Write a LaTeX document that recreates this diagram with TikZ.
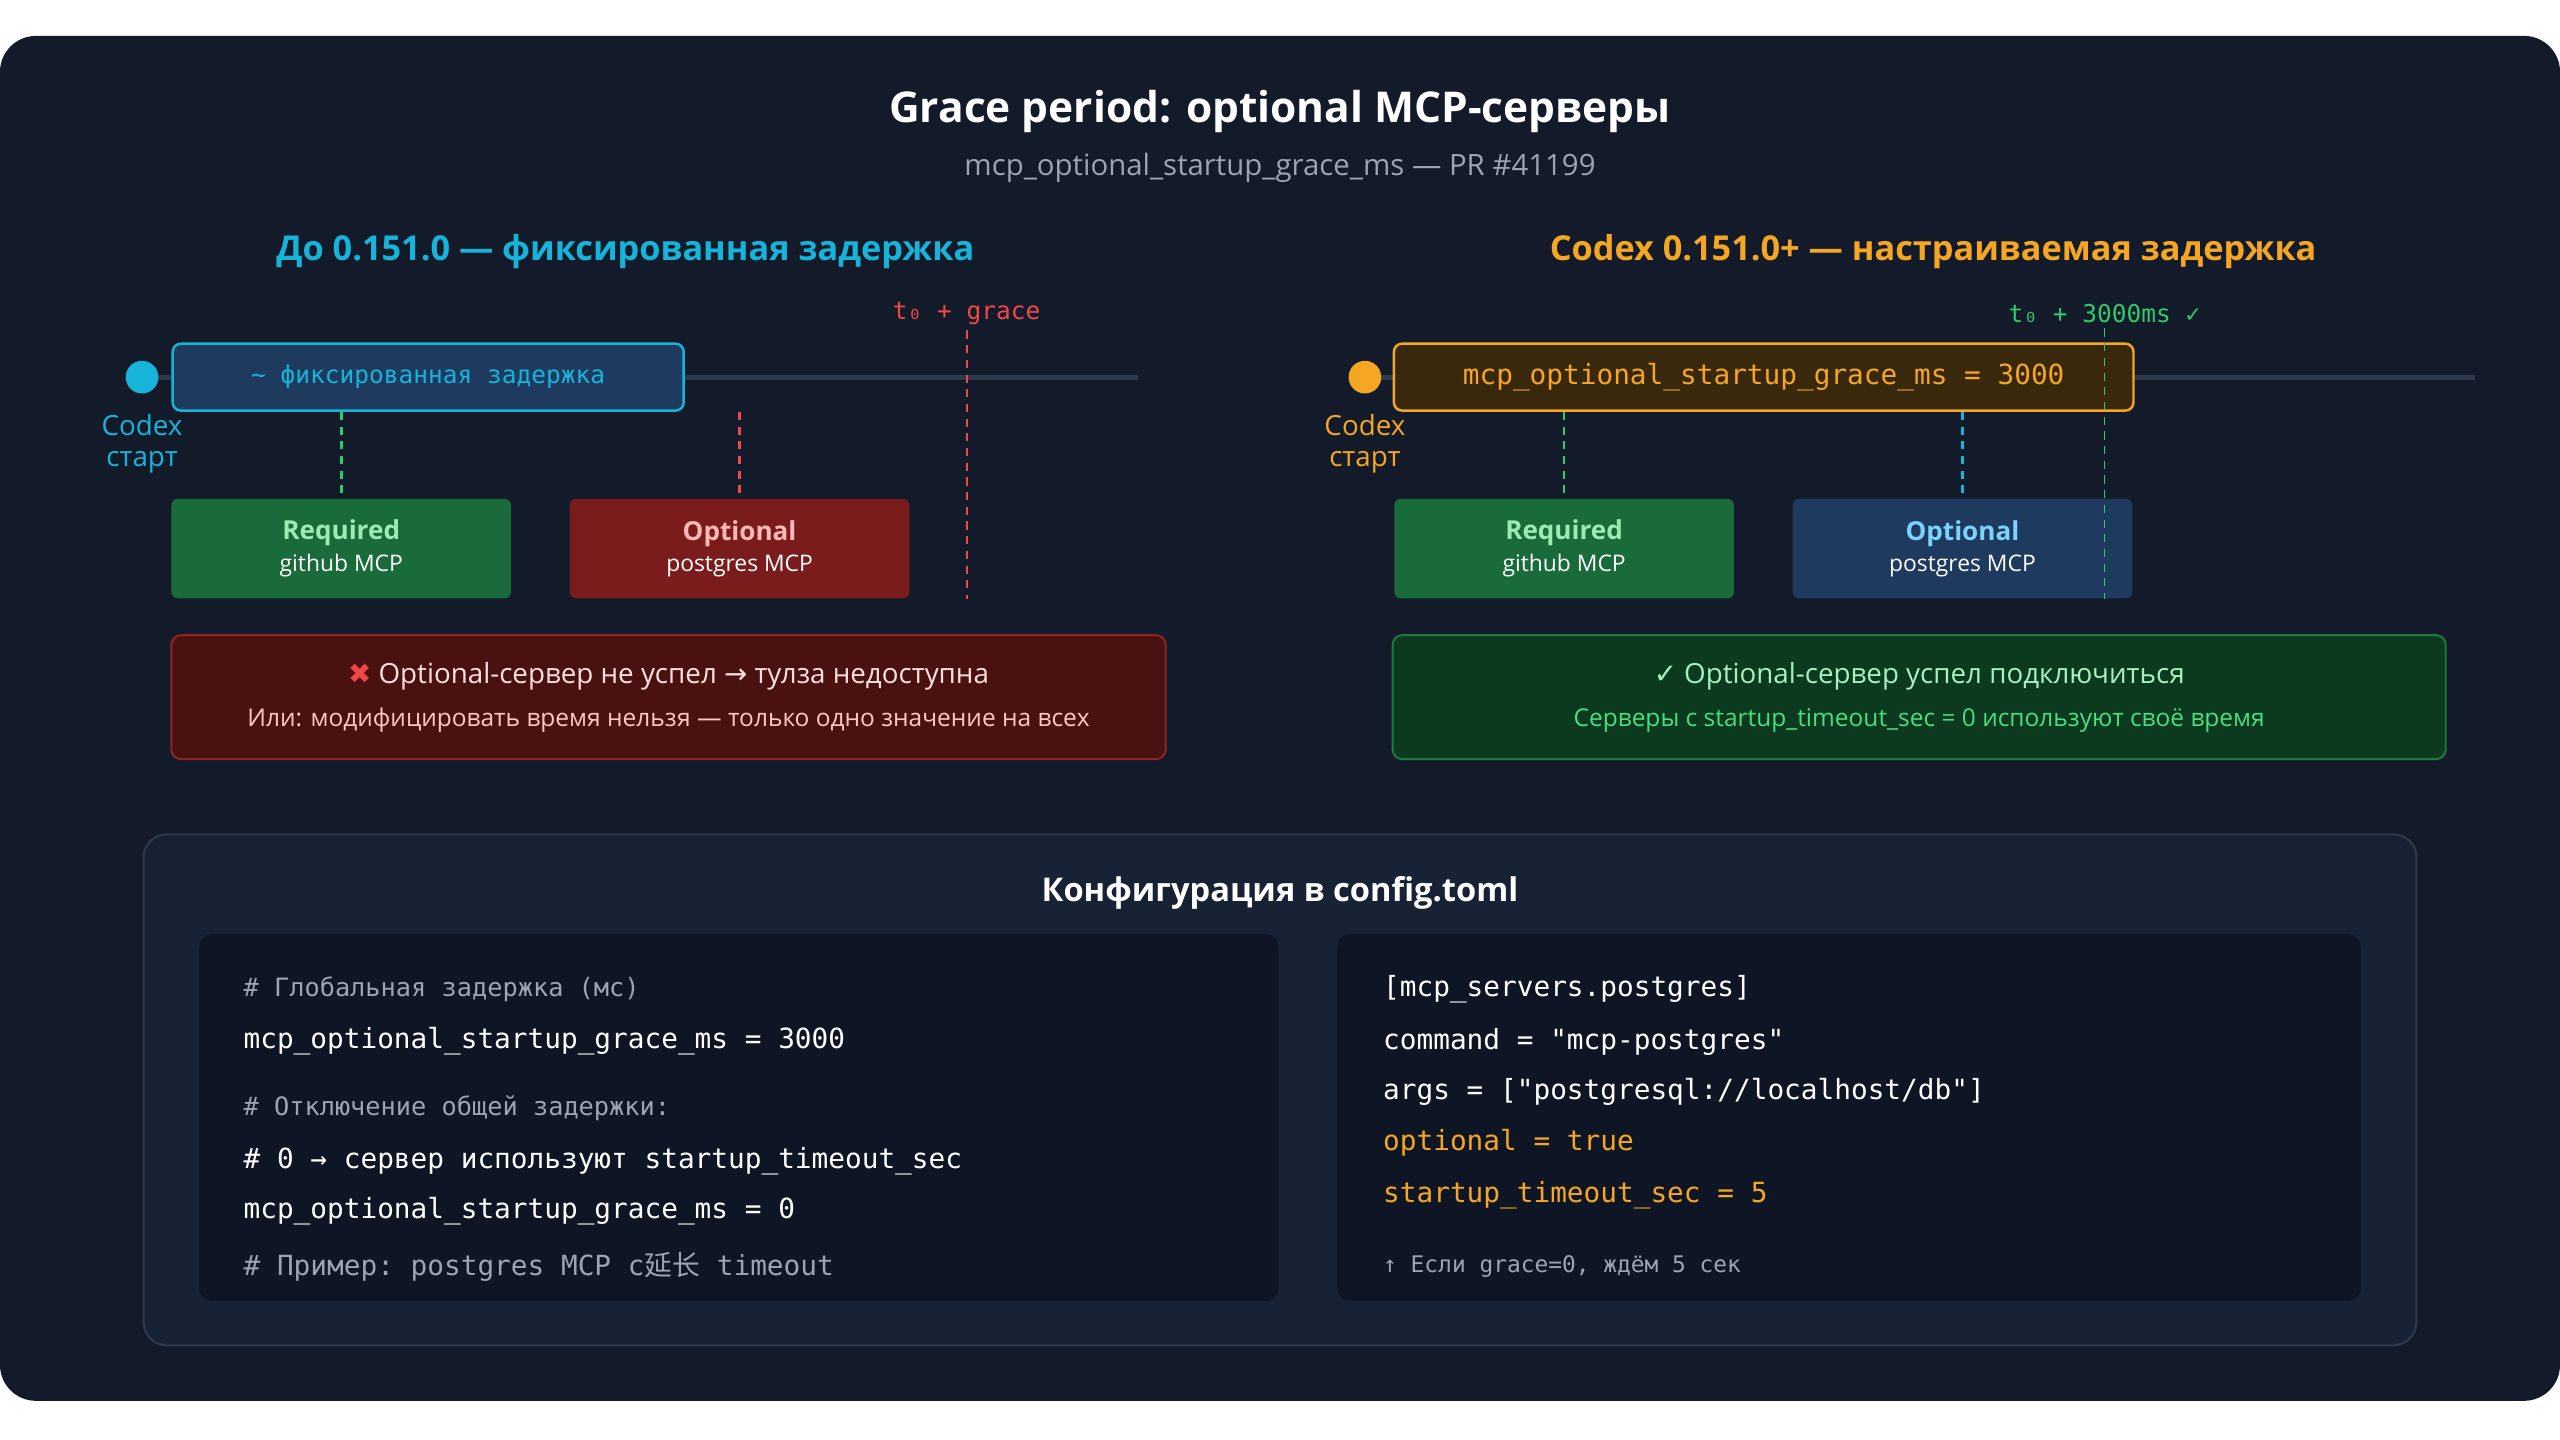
\documentclass[tikz,border=0pt]{standalone}
\usepackage{fontspec}
\setmainfont{Open Sans}
\setmonofont{DejaVu Sans Mono}
\newfontfamily\symfont{DejaVu Sans}
\newfontfamily\cjk{Noto Sans CJK SC}
\usetikzlibrary{positioning}

\definecolor{bgout}{HTML}{131B2A}
\definecolor{panel}{HTML}{182235}
\definecolor{codebg}{HTML}{0E1626}
\definecolor{rule}{HTML}{2E3A4C}
\definecolor{subgray}{HTML}{9AA4B2}
\definecolor{cyanc}{HTML}{17B4DA}
\definecolor{orangec}{HTML}{F5A623}
\definecolor{redc}{HTML}{F04848}
\definecolor{greenc}{HTML}{2FCB6A}
\definecolor{reqfill}{HTML}{1A6B3A}
\definecolor{optred}{HTML}{7A1C1C}
\definecolor{optblue}{HTML}{1E3A5F}
\definecolor{cfgfill}{HTML}{3A280C}
\definecolor{errfill}{HTML}{4A1111}
\definecolor{errline}{HTML}{8E2424}
\definecolor{okfill}{HTML}{0C3A1F}
\definecolor{okline}{HTML}{1F7A3C}
\definecolor{cmt}{HTML}{9AA4B2}

\tikzset{
  head/.style={font=\bfseries\fontsize{#1}{#1}\selectfont},
  fs/.style={font=\fontsize{#1}{#1}\selectfont},
  tmark/.style={font=\ttfamily\fontsize{15}{15}\selectfont},
  svc/.style={draw=none,rounded corners=4,minimum width=208,minimum height=61,align=center},
  delay/.style={rounded corners=5,line width=1.5,minimum height=41,anchor=west,font=\ttfamily\fontsize{17}{17}\selectfont},
  tick/.style={line width=1.6,dash pattern=on 5 off 4},
  msg/.style={rounded corners=6,line width=1.2,minimum height=76,align=center},
  code/.style={anchor=west,font=\ttfamily\fontsize{17}{17}\selectfont,text=white,inner sep=0}
}

\begin{document}
\begin{tikzpicture}[x=1pt,y=-1pt]
  \useasboundingbox (0,0) rectangle (1568,882);
  \fill[white] (0,0) rectangle (1568,882);
  \fill[bgout,rounded corners=22] (0,22) rectangle (1568,858);

  % Titles
  \node[head=26,text=white] (title) at (784,68) {Grace period: optional MCP-серверы};
  \node[fs=18,text=subgray] (sub) at (784,103) {mcp\_optional\_startup\_grace\_ms — PR \#41199};
  \node[head=21,text=cyanc] (hl) at (383,154) {До 0.151.0 — фиксированная задержка};
  \node[head=21,text=orangec] (hr) at (1184,154) {Codex 0.151.0+ — настраиваемая задержка};

  % Left timeline
  \draw[rule,line width=3] (87,231) -- (697,231);
  \fill[cyanc] (87,231) circle (10);
  \node[delay,fill=optblue,draw=cyanc,text=cyanc,minimum width=313,font=\ttfamily\fontsize{15}{15}\selectfont] (fix) at (105,231) {\textasciitilde\ фиксированная задержка};
  \node[fs=17,text=cyanc,align=center,inner sep=0] (st1) at (87,272) {Codex\\[2pt]старт};
  \node[tmark,text=redc] (gl) at (592,192) {t₀ + grace};
  \coordinate (ge) at (592,367);
  \node[svc,fill=reqfill] (req1) at (209,336) {\fontsize{16}{16}\selectfont\bfseries\color[HTML]{9CEBB4}Required\\[4pt]\fontsize{14}{14}\selectfont\mdseries\color{white}github MCP};
  \node[svc,fill=optred] (opt1) at (453,336) {\fontsize{16}{16}\selectfont\bfseries\color[HTML]{FFB8B8}Optional\\[4pt]\fontsize{14}{14}\selectfont\mdseries\color{white}postgres MCP};
  \draw[tick,greenc] (req1.north |- fix.south) -- (req1.north);
  \draw[tick,redc] (opt1.north |- fix.south) -- (opt1.north);
  \draw[tick,redc,line width=1.2] (gl.south) -- (ge);
  \node[msg,fill=errfill,draw=errline,minimum width=609] (err) at (409.5,427) {%
    \fontsize{17}{17}\selectfont\color[HTML]{FFE0E0}{\symfont\color{redc}✖}\ Optional-сервер не успел {\symfont→} тулза недоступна\\[10pt]
    \fontsize{15}{15}\selectfont\color[HTML]{FFC8C8}Или: модифицировать время нельзя — только одно значение на всех};

  % Right timeline
  \draw[rule,line width=3] (836,231) -- (1516,231);
  \fill[orangec] (836,231) circle (10);
  \node[delay,fill=cfgfill,draw=orangec,text=orangec,minimum width=453] (cfg) at (853,231) {mcp\_optional\_startup\_grace\_ms = 3000};
  \node[fs=17,text=orangec,align=center,inner sep=0] (st2) at (836,272) {Codex\\[2pt]старт};
  \node[tmark,text=greenc] (gr) at (1289,192) {t₀ + 3000ms ✓};
  \coordinate (gre) at (1289,367);
  \node[svc,fill=reqfill] (req2) at (958,336) {\fontsize{16}{16}\selectfont\bfseries\color[HTML]{9CEBB4}Required\\[4pt]\fontsize{14}{14}\selectfont\mdseries\color{white}github MCP};
  \node[svc,fill=optblue] (opt2) at (1202,336) {\fontsize{16}{16}\selectfont\bfseries\color[HTML]{7DD3FC}Optional\\[4pt]\fontsize{14}{14}\selectfont\mdseries\color{white}postgres MCP};
  \draw[tick,greenc] (req2.north |- cfg.south) -- (req2.north);
  \draw[tick,cyanc] (opt2.north |- cfg.south) -- (opt2.north);
  \draw[tick,greenc,line width=1.2] (gr.south) -- (gre);
  \node[msg,fill=okfill,draw=okline,minimum width=645] (ok) at (1175.5,427) {%
    \fontsize{17}{17}\selectfont\color[HTML]{A8F0C0}{\symfont✓} Optional-сервер успел подключиться\\[10pt]
    \fontsize{15}{15}\selectfont\color[HTML]{4ADE80}Серверы с startup\_timeout\_sec = 0 используют своё время};

  % Config panel
  \draw[rule,fill=panel,line width=1.2,rounded corners=14] (88,511) rectangle (1480,824);
  \node[head=20,text=white] (ct) at (784,547) {Конфигурация в config.toml};
  \fill[codebg,rounded corners=8] (122,572) rectangle (783,797);
  \fill[codebg,rounded corners=8] (819,572) rectangle (1446,797);

  \node[code,text=cmt,font=\ttfamily\fontsize{15.5}{15.5}\selectfont] (l1) at (149,606) {\# Глобальная задержка (мс)};
  \node[code] (l2) at (149,638) {mcp\_optional\_startup\_grace\_ms = 3000};
  \node[code,text=cmt,font=\ttfamily\fontsize{15.5}{15.5}\selectfont] (l3) at (149,679) {\# Отключение общей задержки:};
  \node[code] (l4) at (149,711) {\# 0 → сервер используют startup\_timeout\_sec};
  \node[code] (l5) at (149,742) {mcp\_optional\_startup\_grace\_ms = 0};
  \node[code,text=cmt] (l6) at (149,776) {\# Пример: postgres MCP с{\cjk 延长} timeout};

  \node[code] (r1) at (847,606) {[mcp\_servers.postgres]};
  \node[code] (r2) at (847,638) {command = "mcp-postgres"};
  \node[code] (r3) at (847,669) {args = ["postgresql://localhost/db"]};
  \node[code,text=orangec] (r4) at (847,700) {optional = true};
  \node[code,text=orangec] (r5) at (847,732) {startup\_timeout\_sec = 5};
  \node[code,text=cmt,font=\ttfamily\fontsize{14}{14}\selectfont] (r6) at (847,776) {↑ Если grace=0, ждём 5 сек};
\end{tikzpicture}
\end{document}
